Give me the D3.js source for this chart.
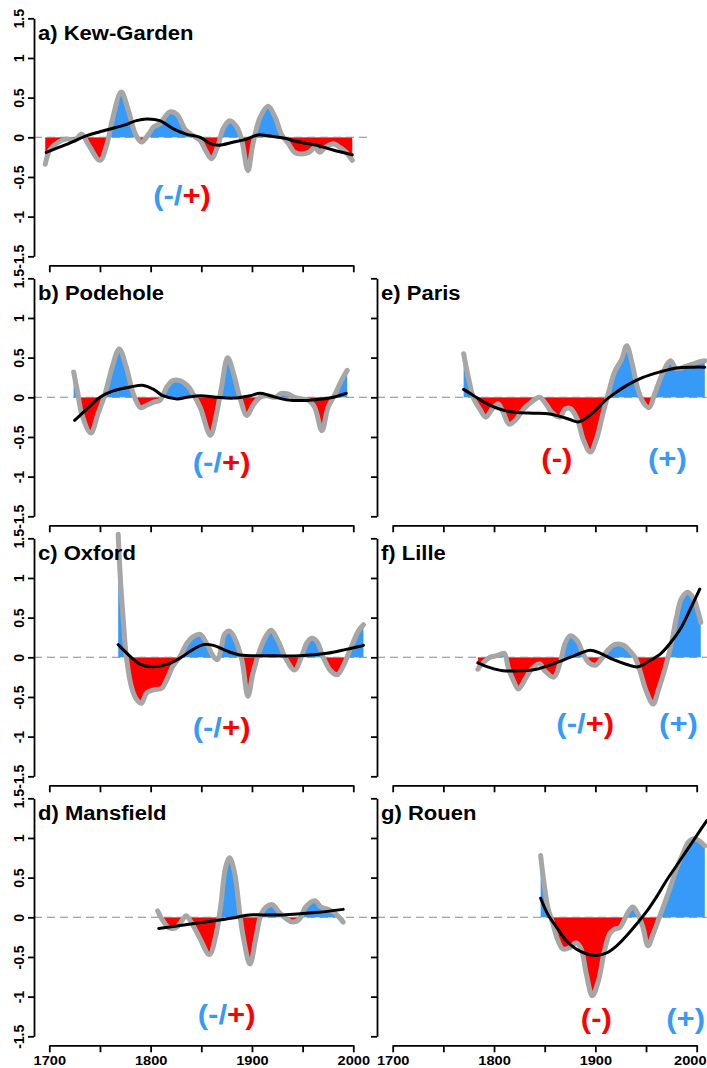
<!DOCTYPE html>
<html><head><meta charset="utf-8">
<script src="https://cdn.jsdelivr.net/npm/d3@7"></script>
<style>html,body{margin:0;padding:0;background:#fff;} svg{display:block;}</style>
</head><body><svg id="c" width="707" height="1068"></svg>
<script>
// ---------- data ----------
const panelNames = ["a) Kew-Garden","b) Podehole","c) Oxford","d) Mansfield","e) Paris","f) Lille","g) Rouen"];
const yTicks = [-1.5,-1,-0.5,0,0.5,1,1.5];
const yTickLabels = ["-1.5","-1","-0.5","0","0.5","1","1.5"];
const xTicks = [1700,1750,1800,1850,1900,1950,2000];
const xTickLabels = ["1700","","1800","","1900","","2000"];

const kewYears = [1696,1701,1709,1717,1725,1732,1738,1750,1757,1762,1771,1778,1785,1791,1798,1803,1809,1819,1826,1834,1842,1849,1854,1860,1866,1872,1878,1885,1890,1896,1901,1908,1916,1923,1929,1936,1942,1949,1956,1962,1967,1972,1980,1987,1993,1999];
const kewValues = [-0.34,-0.15,-0.06,-0.02,-0.04,0.04,-0.08,-0.29,-0.08,0.21,0.57,0.34,0.04,-0.06,0.04,0.13,0.17,0.32,0.29,0.1,0.02,-0.04,-0.16,-0.27,-0.12,0.12,0.21,0.13,-0.04,-0.42,-0.08,0.25,0.39,0.25,0.04,-0.08,-0.19,-0.21,-0.19,-0.13,-0.19,-0.13,-0.08,-0.13,-0.19,-0.29];
const kewTrendYears = [1697,1717,1737,1750,1773,1786,1796,1809,1822,1835,1849,1859,1867,1882,1893,1906,1915,1931,1947,1964,1980,1999];
const kewTrend = [-0.19,-0.09,0.02,0.07,0.15,0.21,0.23,0.21,0.11,0.04,0,-0.08,-0.1,-0.06,-0.03,0.03,0.02,-0.01,-0.06,-0.1,-0.16,-0.22];

const podYears = [1724,1728,1732,1741,1748,1755,1762,1769,1776,1783,1790,1796,1803,1809,1816,1822,1829,1836,1842,1849,1859,1865,1870,1876,1882,1888,1895,1901,1908,1915,1923,1929,1936,1942,1949,1956,1962,1969,1975,1982,1989,1994];
const podValues = [0.32,0.06,-0.21,-0.45,-0.21,0.04,0.38,0.61,0.38,0.04,-0.13,-0.1,-0.06,-0.04,0.13,0.21,0.21,0.15,0.04,-0.13,-0.48,-0.21,0.13,0.5,0.29,0,-0.23,-0.1,0,0.02,0,0.05,0.04,0,-0.02,-0.04,-0.13,-0.42,-0.13,0.04,0.23,0.34];
const podTrendYears = [1725,1737,1750,1763,1780,1793,1803,1812,1826,1836,1849,1865,1882,1898,1908,1918,1934,1954,1970,1980,1993];
const podTrend = [-0.29,-0.15,0,0.08,0.13,0.15,0.1,0.02,-0.02,0,0.02,0,-0.01,0.02,0.05,0.02,-0.03,-0.04,-0.02,0,0.05];

const oxYears = [1768,1770,1773,1776,1781,1786,1791,1796,1803,1811,1816,1822,1829,1836,1842,1849,1855,1862,1866,1870,1873,1878,1883,1890,1896,1901,1908,1915,1919,1926,1934,1942,1949,1954,1959,1964,1970,1977,1984,1990,1997,2005,2010];
const oxValues = [1.55,1.02,0.47,0.01,-0.37,-0.53,-0.58,-0.45,-0.41,-0.39,-0.28,-0.11,0.01,0.18,0.26,0.29,0.18,0.01,-0.03,0.14,0.29,0.33,0.24,-0.03,-0.49,-0.2,0.1,0.29,0.34,0.2,-0.03,-0.16,0.01,0.18,0.24,0.2,0.01,-0.16,-0.22,-0.11,0.1,0.33,0.41];
const oxTrendYears = [1768,1780,1790,1803,1816,1829,1842,1852,1862,1875,1888,1915,1947,1974,1993,2007,2010];
const oxTrend = [0.16,0.01,-0.09,-0.12,-0.09,-0.01,0.1,0.16,0.15,0.08,0.03,0.02,0.02,0.05,0.1,0.14,0.15];

const manYears = [1807,1812,1818,1825,1831,1835,1840,1848,1858,1864,1869,1874,1878,1883,1888,1892,1898,1904,1909,1914,1920,1927,1934,1940,1947,1953,1962,1968,1975,1981,1986,1990];
const manValues = [0.08,-0.04,-0.13,-0.13,-0.04,0.02,-0.06,-0.25,-0.47,-0.25,0.13,0.63,0.75,0.55,0.04,-0.29,-0.59,-0.25,0.04,0.13,0.16,0.06,-0.02,-0.06,-0.02,0.13,0.21,0.13,0.1,0.06,0,-0.06];
const manTrendYears = [1808,1848,1881,1897,1911,1930,1963,1990];
const manTrend = [-0.14,-0.07,-0.01,0.03,0.03,0.03,0.06,0.1];

const parYears = [1770,1775,1780,1786,1792,1798,1804,1809,1815,1821,1829,1837,1845,1851,1857,1865,1870,1875,1882,1888,1895,1901,1907,1913,1919,1926,1931,1936,1942,1947,1953,1959,1967,1974,1980,1989,1997,2003,2008];
const parValues = [0.55,0.23,-0.02,-0.15,-0.25,-0.15,-0.08,-0.19,-0.34,-0.29,-0.15,-0.06,0,-0.08,-0.19,-0.25,-0.15,-0.14,-0.27,-0.53,-0.69,-0.53,-0.23,0.06,0.32,0.48,0.65,0.44,0.1,-0.06,-0.13,0.06,0.32,0.46,0.36,0.39,0.42,0.45,0.46];
const parTrendYears = [1770,1780,1790,1806,1822,1839,1855,1865,1875,1883,1890,1898,1908,1918,1931,1947,1964,1980,1997,2008];
const parTrend = [0.1,0.02,-0.06,-0.15,-0.19,-0.2,-0.21,-0.24,-0.28,-0.31,-0.27,-0.19,-0.06,0.04,0.15,0.25,0.32,0.37,0.38,0.38];

const lilYears = [1784,1790,1796,1803,1810,1814,1819,1824,1831,1837,1845,1850,1859,1865,1870,1875,1882,1888,1893,1900,1906,1913,1919,1928,1934,1939,1944,1950,1957,1962,1969,1975,1980,1985,1991,1997,2001,2004];
const lilValues = [-0.15,-0.06,0,0.02,0.05,-0.13,-0.29,-0.4,-0.27,-0.15,-0.08,-0.17,-0.25,-0.08,0.17,0.27,0.21,0.04,-0.06,-0.1,-0.02,0.1,0.16,0.15,0.08,0,-0.17,-0.42,-0.59,-0.42,-0.13,0.17,0.5,0.74,0.82,0.74,0.59,0.44];
const lilTrendYears = [1784,1796,1809,1826,1842,1859,1875,1887,1895,1905,1918,1931,1942,1954,1964,1974,1984,1993,2003];
const lilTrend = [-0.07,-0.13,-0.17,-0.17,-0.15,-0.08,0,0.06,0.09,0.05,-0.03,-0.09,-0.12,-0.04,0.04,0.18,0.36,0.59,0.86];

const rouYears = [1846,1849,1853,1858,1863,1868,1875,1881,1886,1891,1897,1903,1909,1914,1919,1924,1929,1932,1937,1942,1947,1952,1957,1962,1967,1974,1980,1985,1992,1997,2002,2008];
const rouValues = [0.78,0.46,0.13,-0.08,-0.29,-0.4,-0.38,-0.32,-0.4,-0.71,-0.99,-0.8,-0.42,-0.21,-0.15,-0.13,-0.02,0.06,0.13,0.04,-0.13,-0.36,-0.21,-0.04,0.13,0.38,0.61,0.76,0.95,0.99,0.97,0.9];
const rouTrendYears = [1846,1853,1862,1871,1881,1891,1901,1911,1921,1931,1941,1951,1961,1970,1980,1990,2000,2010];
const rouTrend = [0.24,0.04,-0.13,-0.29,-0.4,-0.46,-0.48,-0.45,-0.36,-0.23,-0.08,0.08,0.27,0.46,0.65,0.84,1.03,1.22];

// annotations: panel index, year, value (baseline), kind
const notePanels = [0,1,2,3,4,4,5,5,6,6];
const noteYears  = [1831,1870,1870,1875,1862,1971,1890,1982,1901,1989];
const noteValues = [-0.85,-0.94,-1.0,-1.35,-0.89,-0.89,-0.96,-0.96,-1.39,-1.39];
const noteKinds  = ["mixed","mixed","mixed","mixed","minus","plus","mixed","plus","minus","plus"];

// ---------- layout ----------
const zip = (a,b) => a.map((v,i)=>[v,b[i]]);
const panels = [
  {row:0,col:0,s:zip(kewYears,kewValues),t:zip(kewTrendYears,kewTrend)},
  {row:1,col:0,s:zip(podYears,podValues),t:zip(podTrendYears,podTrend)},
  {row:2,col:0,s:zip(oxYears,oxValues),t:zip(oxTrendYears,oxTrend)},
  {row:3,col:0,s:zip(manYears,manValues),t:zip(manTrendYears,manTrend)},
  {row:1,col:1,s:zip(parYears,parValues),t:zip(parTrendYears,parTrend)},
  {row:2,col:1,s:zip(lilYears,lilValues),t:zip(lilTrendYears,lilTrend)},
  {row:3,col:1,s:zip(rouYears,rouValues),t:zip(rouTrendYears,rouTrend)}
];
const FONT = "'Liberation Sans', Arial, Helvetica, sans-serif";
const BLUE = "#3799f8", RED = "#ff0000", GRAY = "#a6a6a6";
const rowTop = i => 18.3 + 260*i;
const cols = [{axis:34, x0:49.3, x1:353.3, right:367},{axis:377, x0:392.7, x1:696.7, right:711}];
const W = 707;

const svg = d3.select("#c");
const defs = svg.append("defs");

panels.forEach((p,k)=>{
  const top = rowTop(p.row), c = cols[p.col];
  const x = d3.scaleLinear().domain([1700,2000]).range([c.x0,c.x1]);
  const y = d3.scaleLinear().domain([-1.5,1.5]).range([top+238, top]);
  const plotTop = top-9, plotBot = top+247;
  const g = svg.append("g");

  defs.append("clipPath").attr("id","pos"+k).append("rect")
    .attr("x",c.axis).attr("y",plotTop).attr("width",c.right-c.axis).attr("height",y(0)-plotTop);
  defs.append("clipPath").attr("id","neg"+k).append("rect")
    .attr("x",c.axis).attr("y",y(0)).attr("width",c.right-c.axis).attr("height",plotBot-y(0));

  const curve = d3.curveCatmullRom.alpha(0.5);
  const area = d3.area().x(d=>x(d[0])).y0(y(0)).y1(d=>y(d[1])).curve(curve);
  const line = d3.line().x(d=>x(d[0])).y(d=>y(d[1])).curve(curve);

  g.append("path").attr("d",area(p.s)).attr("fill",BLUE).attr("clip-path","url(#pos"+k+")");
  g.append("path").attr("d",area(p.s)).attr("fill",RED).attr("clip-path","url(#neg"+k+")");

  g.append("line").attr("x1",c.axis).attr("x2",c.right).attr("y1",y(0)).attr("y2",y(0))
    .attr("stroke","#8a8a8a").attr("stroke-width",1.1).attr("stroke-dasharray","8,5");

  g.append("path").attr("d",line(p.s)).attr("fill","none").attr("stroke",GRAY)
    .attr("stroke-width",5).attr("stroke-linejoin","round").attr("stroke-linecap","round");
  g.append("path").attr("d",line(p.t)).attr("fill","none").attr("stroke","#000")
    .attr("stroke-width",3).attr("stroke-linejoin","round").attr("stroke-linecap","round");

  // y axis
  const ya = g.append("g").attr("transform",`translate(${c.axis},0)`)
    .call(d3.axisLeft(y).tickValues(yTicks).tickSize(6).tickSizeOuter(0)
      .tickFormat((d,i)=> p.col===0 ? yTickLabels[i] : ""));
  ya.select(".domain").attr("stroke","#000").attr("stroke-width",1.8);
  ya.selectAll(".tick line").attr("stroke","#000").attr("stroke-width",1.8);
  ya.selectAll(".tick text").attr("x",0).attr("y",0).attr("dy",0)
    .attr("text-anchor","middle").attr("transform","translate(-10,0) scale(1.06,1) rotate(-90)")
    .attr("font-family",FONT).attr("font-weight","bold").attr("font-size",14).attr("fill","#000");

  // x axis
  const xa = g.append("g").attr("transform",`translate(0,${plotBot})`)
    .call(d3.axisBottom(x).tickValues(xTicks).tickSize(7).tickSizeOuter(0)
      .tickFormat((d,i)=> p.row===3 ? xTickLabels[i] : ""));
  xa.select(".domain").attr("stroke","#000").attr("stroke-width",1.8);
  xa.selectAll(".tick line").attr("stroke","#000").attr("stroke-width",1.8);
  xa.selectAll(".tick text").attr("y",0).attr("dy",0)
    .attr("transform","translate(0,19.5) scale(1.08,1)")
    .attr("font-family",FONT).attr("font-weight","bold").attr("font-size",13.5).attr("fill","#000")
    .each(function(){
      // keep a label that would run past the page edge inside it
      const gx = x(+d3.select(this.parentNode).datum());
      const half = this.getComputedTextLength()*1.08/2;
      const over = gx + half - (W-1);
      if (over > 0) d3.select(this).attr("transform",`translate(${-over},19.5) scale(1.08,1)`);
    });

  // title
  g.append("text").attr("transform",`translate(${c.axis+4},${top+21.7}) scale(1.13,1)`)
    .attr("font-family",FONT).attr("font-weight","bold").attr("font-size",19.5).attr("fill","#000")
    .text(panelNames[k]);

  // annotations
  notePanels.forEach((pi,j)=>{
    if (pi!==k) return;
    const t = g.append("text")
      .attr("transform",`translate(${x(noteYears[j])},${y(noteValues[j])}) scale(1.11,1)`)
      .attr("text-anchor","middle").attr("font-family",FONT).attr("font-weight","bold").attr("font-size",28);
    if (noteKinds[j]==="mixed") {
      t.append("tspan").attr("fill",BLUE).text("(-/");
      t.append("tspan").attr("fill",RED).text("+)");
    } else if (noteKinds[j]==="minus") {
      t.append("tspan").attr("fill",RED).text("(-)");
    } else {
      t.append("tspan").attr("fill",BLUE).text("(+)");
    }
  });
});
</script>
</body></html>
